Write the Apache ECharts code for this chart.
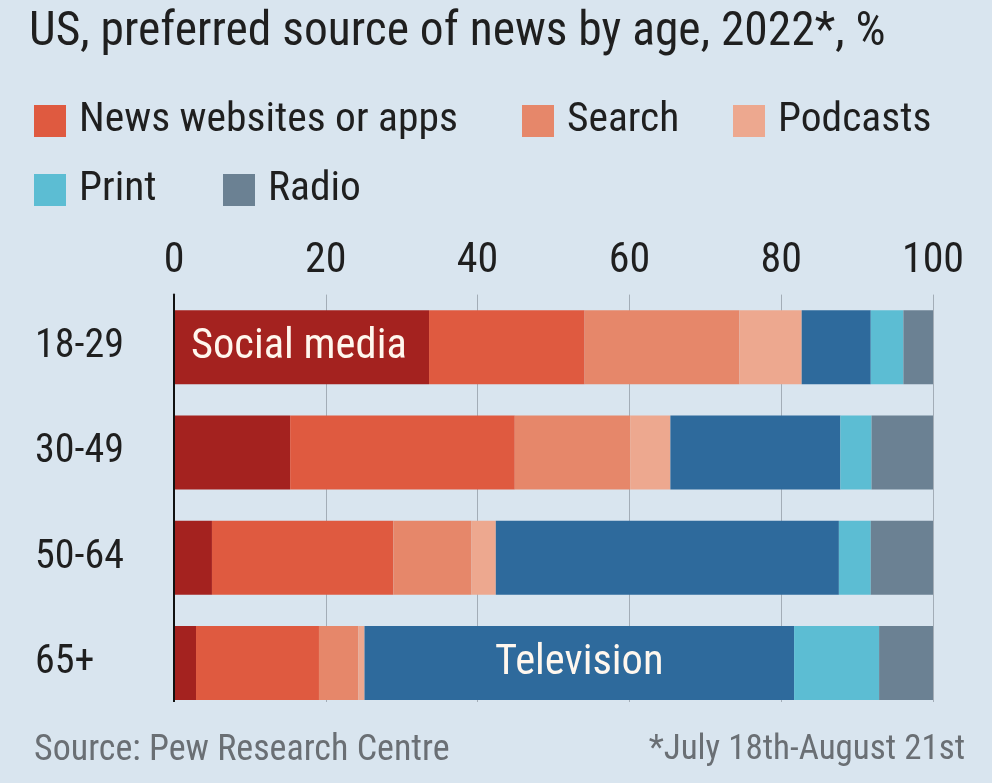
<!DOCTYPE html>
<html><head><meta charset="utf-8">
<script src="https://cdn.jsdelivr.net/npm/echarts@6/dist/echarts.min.js"></script>
<style>html,body{margin:0;padding:0;background:#d9e5ef}#c{width:992px;height:783px}</style>
</head><body><div id="c"></div><script>
const categories = ['18-29', '30-49', '50-64', '65+'];
const socialMedia = [33.6, 15.3, 5.0, 2.9];
const newsSites = [20.5, 29.6, 23.9, 16.2];
const search = [20.4, 15.2, 10.3, 5.2];
const podcasts = [8.2, 5.3, 3.2, 0.8];
const television = [9.1, 22.4, 45.2, 56.6];
const print = [4.3, 4.1, 4.2, 11.2];
const radio = [3.9, 8.1, 8.2, 7.1];
const xTicks = [0, 20, 40, 60, 80, 100];

const FONT = '"Roboto Condensed", sans-serif';
const txt = '#1f1f1f';
const BG = '#d9e5ef';

const names = ['Social media', 'News websites or apps', 'Search', 'Podcasts', 'Television', 'Print', 'Radio'];
const values = [socialMedia, newsSites, search, podcasts, television, print, radio];
const colors = ['#a4221f', '#df5a40', '#e6876a', '#eda88f', '#2e6a9c', '#5cbdd3', '#6b8193'];

const inLabel = {
  'Social media': {idx: 0, position: 'insideLeft', distance: 17},
  'Television': {idx: 3, position: 'inside', distance: 0}
};

const series = names.map((n, k) => ({
  name: n, type: 'bar', stack: 'all', barWidth: 74,
  itemStyle: {color: colors[k]}, emphasis: {disabled: true},
  data: values[k].map((v, i) => {
    const L = inLabel[n];
    if (L && L.idx === i) {
      return {value: v, label: {show: true, position: L.position, distance: L.distance, formatter: n,
        color: '#fff7ee', fontSize: 42.5, fontFamily: FONT}};
    }
    return v;
  })
}));

const legendPos = [
  ['News websites or apps', 34, 100], ['Search', 522, 100], ['Podcasts', 733, 100],
  ['Print', 34, 169], ['Radio', 223, 169]
];
const legends = legendPos.map(p => ({
  data: [p[0]], left: p[1], top: p[2], padding: 0, icon: 'rect',
  itemWidth: 32, itemHeight: 32, selectedMode: false,
  textStyle: {fontSize: 41.5, color: txt, fontFamily: FONT, padding: [0, 0, 0, 8]}
}));

const chart = echarts.init(document.getElementById('c'), null, {renderer: 'canvas'});
chart.setOption({
  backgroundColor: BG, animation: false,
  title: [
    {text: 'US, preferred source of news by age, 2022*, %', left: 29, top: 9, padding: 0,
      textStyle: {fontSize: 47.5, fontWeight: 'normal', color: txt, fontFamily: FONT}},
    {text: 'Source: Pew Research Centre', left: 34, top: 733, padding: 0,
      textStyle: {fontSize: 36, fontWeight: 'normal', color: '#6a6f74', fontFamily: FONT}},
    {text: '*July 18th-August 21st', right: 27, top: 733, padding: 0,
      textStyle: {fontSize: 35, fontWeight: 'normal', color: '#6a6f74', fontFamily: FONT}}
  ],
  legend: legends,
  grid: {left: 174, right: 59, top: 294.6, height: 421},
  xAxis: {
    type: 'value', position: 'top', min: xTicks[0], max: xTicks[xTicks.length - 1], interval: 20,
    axisLine: {show: false}, axisTick: {show: false},
    axisLabel: {fontSize: 42, color: txt, fontFamily: FONT, margin: 12},
    splitLine: {show: true, lineStyle: {color: '#a3adb7', width: 1}}
  },
  yAxis: {
    type: 'category', data: categories, inverse: true, z: 10,
    axisLine: {show: true, lineStyle: {color: '#111', width: 2}}, axisTick: {show: false},
    axisLabel: {fontSize: 40, color: txt, fontFamily: FONT, align: 'left', margin: 139}
  },
  graphic: [{
    type: 'rect', z: 100, silent: true,
    shape: {x: 165, y: 702, width: 790, height: 16},
    style: {fill: BG}
  }],
  series: series
});
</script></body></html>
